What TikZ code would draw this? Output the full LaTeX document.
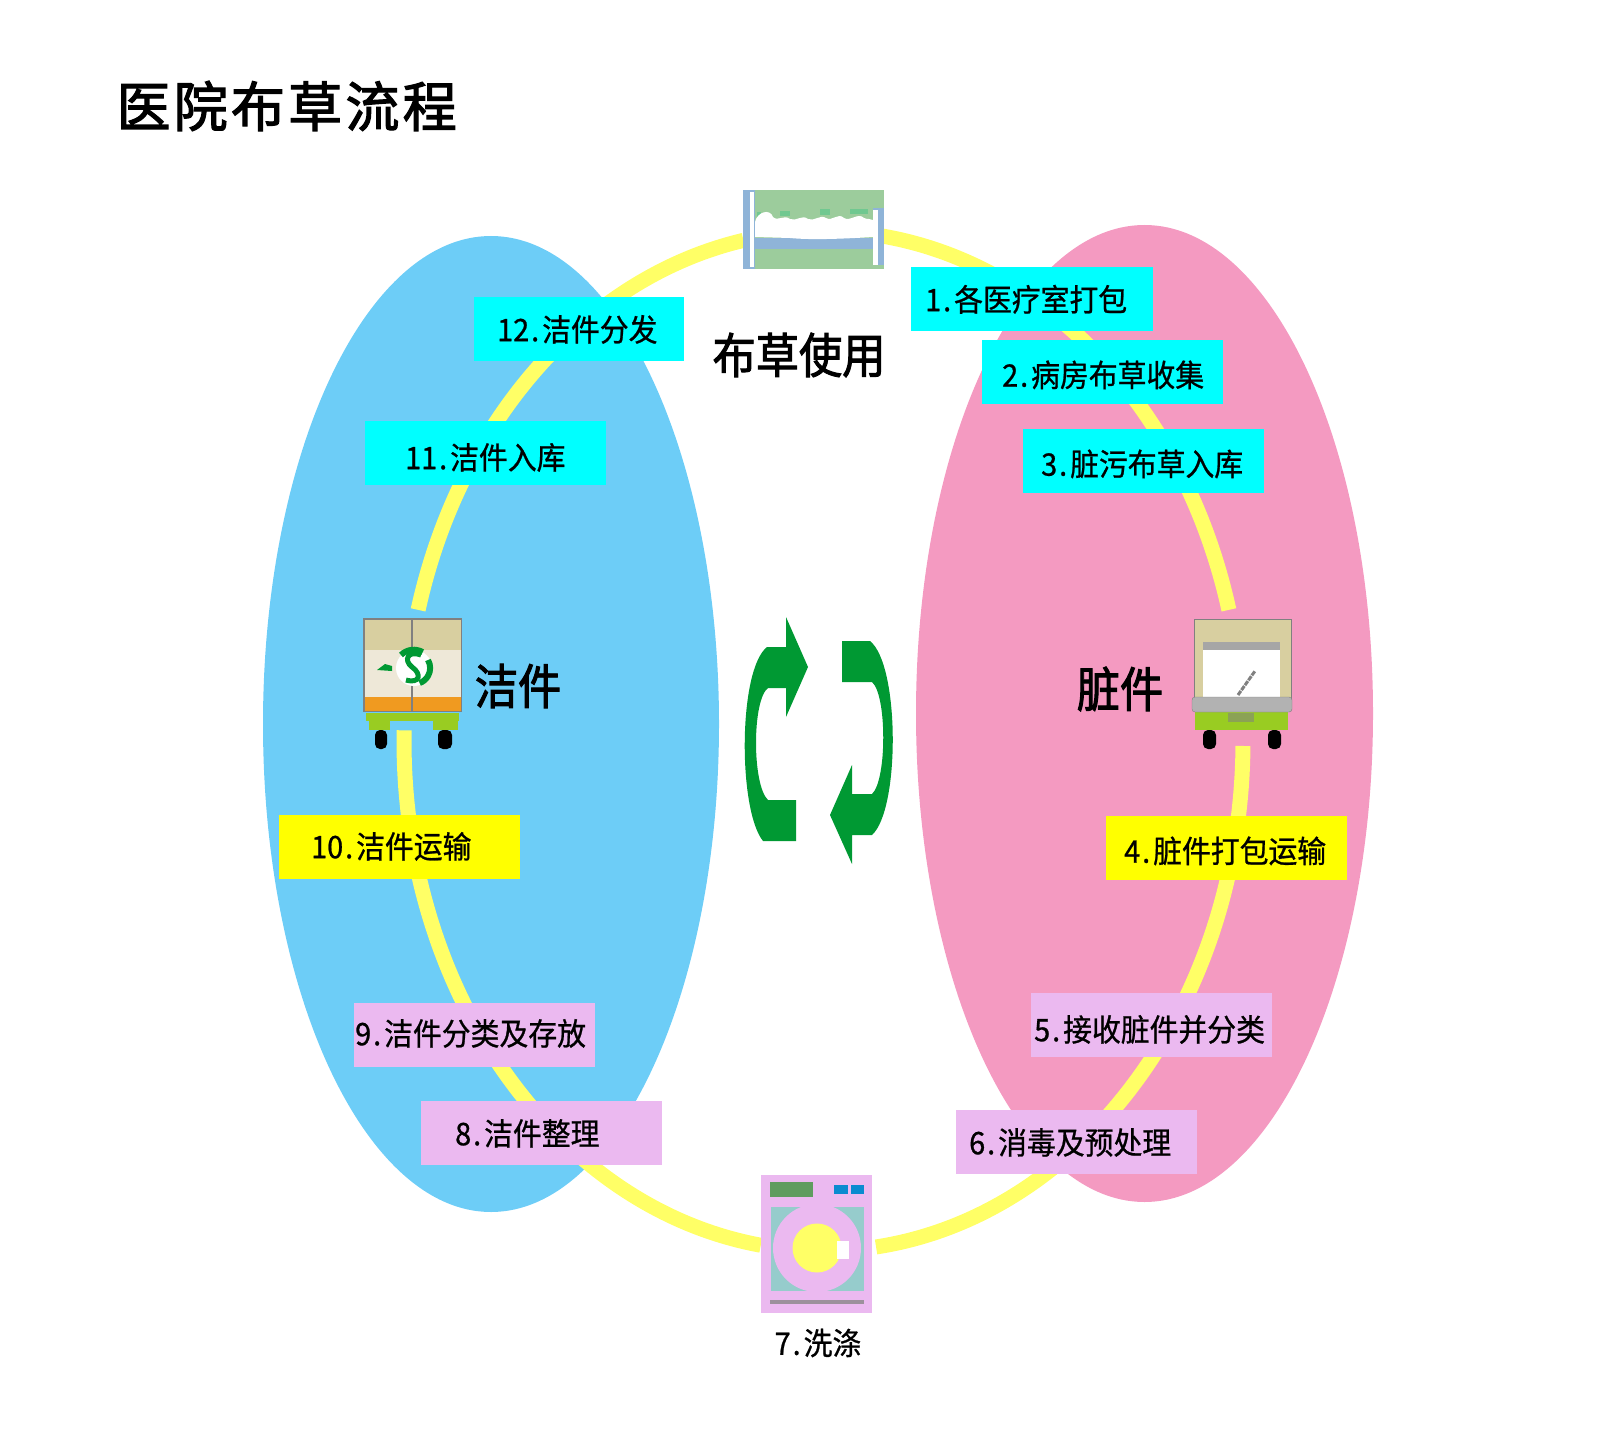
\documentclass[tikz,border=0pt]{standalone}
\usepackage{fontspec}
\setmainfont{Noto Sans CJK SC}[FakeStretch=0.93,FakeBold=0.8]
\newfontfamily\heavyfont{Noto Sans CJK SC}[FakeStretch=0.9,FakeBold=2]
\newfontfamily\titlefont{Noto Sans CJK SC}[LetterSpace=6,FakeBold=2.2]
\usetikzlibrary{calc,shapes.geometric}

\definecolor{cleanblue}{HTML}{6DCDF7}
\definecolor{dirtypink}{HTML}{F49AC1}
\definecolor{ringyellow}{HTML}{FFFF66}
\definecolor{boxcyan}{HTML}{00FFFF}
\definecolor{boxyellow}{HTML}{FFFF00}
\definecolor{boxlilac}{HTML}{EBB9F0}
\definecolor{arrowgreen}{HTML}{009933}
\definecolor{bedgreen}{HTML}{9CCC9C}
\definecolor{bedspeck}{HTML}{70C890}
\definecolor{bedblue}{HTML}{8FB4D8}
\definecolor{carttan}{HTML}{D8CFA0}
\definecolor{cartcream}{HTML}{EEE8D8}
\definecolor{cartorange}{HTML}{F09A20}
\definecolor{cartgreen}{HTML}{99CC22}
\definecolor{panelgreen}{HTML}{5F9C5F}
\definecolor{panelblue}{HTML}{0A8BD0}
\definecolor{washteal}{HTML}{96CCCC}
\definecolor{washgray}{HTML}{9C909C}

% step number set wide, like half width digits
\newcommand{\stepno}[2]{\makebox[#1pt][s]{#2\hfil.}\hspace{3pt}}

\begin{document}
\begin{tikzpicture}[x=1pt,y=-1pt]
  \tikzstyle{ring}=[draw=ringyellow,line width=15pt]
  \tikzstyle{labelbox}=[anchor=north west,minimum height=64pt,text width=241pt,text height=40pt,text depth=16pt,inner xsep=0pt,inner ysep=0pt,align=left,text=black,font=\fontsize{31}{31}\selectfont]
  \tikzstyle{cyanbox}=[labelbox,fill=boxcyan]
  \tikzstyle{yellowbox}=[labelbox,fill=boxyellow]
  \tikzstyle{lilacbox}=[labelbox,fill=boxlilac]
  \tikzstyle{bigtext}=[font=\fontsize{48}{48}\selectfont\heavyfont,text=black]
  \tikzstyle{rotarrow}=[fill=arrowgreen]

  \useasboundingbox (0,0) rectangle (1600,1439);

  % two sides
  \node[ellipse,fill=cleanblue,minimum width=456pt,minimum height=976pt,inner sep=0pt] (cleanside) at (491,724) {};
  \node[ellipse,fill=dirtypink,minimum width=457pt,minimum height=977pt,inner sep=0pt] (dirtyside) at (1144.5,713.5) {};

  % the ring, cut at the four pictures
  \coordinate (ringC) at (823.5,741);
  \coordinate (bedL) at ($(ringC)+(259:419.5 and 510)$);
  \coordinate (bedR) at ($(ringC)+(277.9:419.5 and 510)$);
  \coordinate (dirtyT) at ($(ringC)+(345.1:419.5 and 510)$);
  \coordinate (dirtyB) at ($(ringC)+(0.56:419.5 and 510)$);
  \coordinate (washR) at ($(ringC)+(82.8:419.5 and 510)$);
  \coordinate (washL) at ($(ringC)+(98.6:419.5 and 510)$);
  \coordinate (cleanB) at ($(ringC)+(181.2:419.5 and 510)$);
  \coordinate (cleanT) at ($(ringC)+(194.9:419.5 and 510)$);
  \draw[ring] (cleanT) arc[start angle=194.9,end angle=259,x radius=419.5,y radius=510];
  \draw[ring] (bedR) arc[start angle=277.9,end angle=345.1,x radius=419.5,y radius=510];
  \draw[ring] (dirtyB) arc[start angle=0.56,end angle=82.8,x radius=419.5,y radius=510];
  \draw[ring] (washL) arc[start angle=98.6,end angle=181.2,x radius=419.5,y radius=510];

  % steps
  \node[cyanbox,text width=242pt] (s1) at (911,267) {\hspace*{14pt}\stepno{26}{1}各医疗室打包};
  \node[cyanbox,text depth=11pt]   (s2)  at (982,340)  {\hspace*{20pt}\stepno{26}{2}病房布草收集};
  \node[cyanbox,text depth=11pt]   (s3)  at (1023,429) {\hspace*{18pt}\stepno{26}{3}脏污布草入库};
  \node[yellowbox,text depth=11pt] (s4)  at (1106,816) {\hspace*{18pt}\stepno{26}{4}脏件打包运输};
  \node[lilacbox,text depth=8pt]   (s5)  at (1031,993) {\hspace*{3pt}\stepno{26}{5}接收脏件并分类};
  \node[lilacbox]  (s6)  at (956,1110) {\hspace*{13pt}\stepno{26}{6}消毒及预处理};
  \node[lilacbox]  (s8)  at (421,1101) {\hspace*{34pt}\stepno{26}{8}洁件整理};
  \node[lilacbox,text depth=20pt]  (s9)  at (354,1003) {\hspace*{1pt}\stepno{26}{9}洁件分类及存放};
  \node[yellowbox,text depth=18pt] (s10) at (279,815)  {\hspace*{32pt}\stepno{42}{10}洁件运输};
  \node[cyanbox,text depth=8pt]    (s11) at (365,421)  {\hspace*{40pt}\stepno{42}{11}洁件入库};
  \node[cyanbox,text width=210pt]  (s12) at (474,297)  {\hspace*{23pt}\stepno{42}{12}洁件分发};
  \node[font=\fontsize{31}{31}\selectfont] (s7) at (818,1343) {\stepno{26}{7}洗涤};

  % bed
  \node[fill=bedgreen,minimum width=141pt,minimum height=79pt,inner sep=0pt] (bed) at (813.5,229.5) {};
  \fill[bedblue] (743,190) rectangle (755,269);
  \fill[bedblue] (873,208) rectangle (884,265);
  \fill[bedblue] (755,238) rectangle (873,249);
  \fill[white] (750,192) rectangle (754,267);
  \fill[white] (873,210) rectangle (878,265);
  \fill[bedspeck] (757,212) rectangle (761,222);
  \fill[bedspeck] (780,211) rectangle (790,216);
  \fill[bedspeck] (820,209) rectangle (830,215);
  \fill[bedspeck] (850,209) rectangle (868,214);
  \fill[white] (755,222) .. controls (757,212) and (770,208) .. (773,217)
    .. controls (778,222) and (784,214) .. (790,219) .. controls (796,222) and (802,214) .. (808,219)
    .. controls (814,222) and (820,214) .. (826,218) .. controls (832,222) and (838,212) .. (844,218)
    .. controls (850,222) and (858,212) .. (864,218) .. controls (868,220) and (870,218) .. (873,220)
    -- (873,237) .. controls (840,239) and (810,240) .. (790,238) -- (755,237) -- cycle;

  % clean cart
  \node[fill=carttan,minimum width=98pt,minimum height=93pt,inner sep=0pt] (cleancart) at (413,665.5) {};
  \fill[cartcream] (365,650) rectangle (461,698);
  \fill[cartorange] (364,697) rectangle (462,711);
  \fill[cartgreen] (366,713) rectangle (459,721);
  \fill[cartgreen] (369,721) rectangle (390,730);
  \fill[cartgreen] (433,721) rectangle (458,730);
  \fill[black,rounded corners=5pt] (375,730) rectangle (387,749);
  \fill[black,rounded corners=5pt] (438,730) rectangle (452,749);
  \draw[gray,line width=2pt] (411.7,619) -- (411.7,711);
  \draw[gray,line width=1.5pt] (364,619) rectangle (461.7,711.7);
  \fill[white] (414,668) circle (18);
  \fill[arrowgreen] (377,670) -- (385,664) -- (392,666) -- (392,671) -- cycle;
  \draw[arrowgreen,line width=5pt] (421,655) .. controls (408,650) and (403,660) .. (412,667) .. controls (422,674) and (420,684) .. (406,680);
  \draw[arrowgreen,line width=6pt] (401,655) arc[start angle=225,end angle=300,radius=18];
  \draw[arrowgreen,line width=6pt] (428,660) arc[start angle=-30,end angle=70,radius=16];

  % dirty cart
  \node[fill=carttan,draw=gray,minimum width=97pt,minimum height=81pt,inner sep=0pt] (dirtycart) at (1242.5,659.5) {};
  \fill[white] (1203,645) rectangle (1280,697);
  \fill[gray!70] (1203,642) rectangle (1280,650);
  \draw[gray,line width=3pt,dash pattern=on 5pt off 1pt] (1238,695) -- (1255,671);
  \fill[cartgreen] (1195,712) rectangle (1288,730);
  \fill[gray!55!cartgreen] (1228,713) rectangle (1254,722);
  \fill[gray!60,rounded corners=3pt,draw=gray] (1192,697) rectangle (1292,712);
  \fill[black,rounded corners=5pt] (1203,730) rectangle (1216,749);
  \fill[black,rounded corners=5pt] (1268,730) rectangle (1281,749);

  % washer
  \node[fill=boxlilac,minimum width=111pt,minimum height=138pt,inner sep=0pt] (washer) at (816.5,1244) {};
  \fill[panelgreen] (770,1182) rectangle (813,1197);
  \fill[panelblue] (834,1185) rectangle (848,1194);
  \fill[panelblue] (851,1185) rectangle (864,1194);
  \fill[washteal] (771,1207) rectangle (864,1291);
  \fill[boxlilac] (817,1248) circle (44);
  \fill[ringyellow] (817,1248) circle (24.5);
  \fill[white] (837,1241) rectangle (849,1259);
  \fill[washgray] (770,1300) rectangle (864,1304);

  % turning arrows
  \fill[rotarrow] (786,617) -- (808,667) -- (786,717) -- (786,688) -- (768,688)
    .. controls (752,700) and (752,785) .. (768,800) -- (796,800) -- (796,841) -- (763,841)
    .. controls (738,810) and (738,670) .. (767,647) -- (786,647) -- cycle;
  \fill[rotarrow] (842,641) -- (870,641)
    .. controls (900,665) and (900,810) .. (872,835) -- (852,835) -- (852,864) -- (830,815) -- (852,765) -- (852,794) -- (872,794)
    .. controls (887,780) and (887,695) .. (872,682) -- (842,682) -- cycle;

  % texts
  \node[bigtext] (cleantext) at (518,686) {洁件};
  \node[bigtext] (dirtytext) at (1120,689) {脏件};
  \node[bigtext] (usetext) at (799,355) {布草使用};
  \node[font=\fontsize{54}{54}\selectfont\titlefont,anchor=west,text=black] (title) at (113,106) {医院布草流程};
\end{tikzpicture}
\end{document}
